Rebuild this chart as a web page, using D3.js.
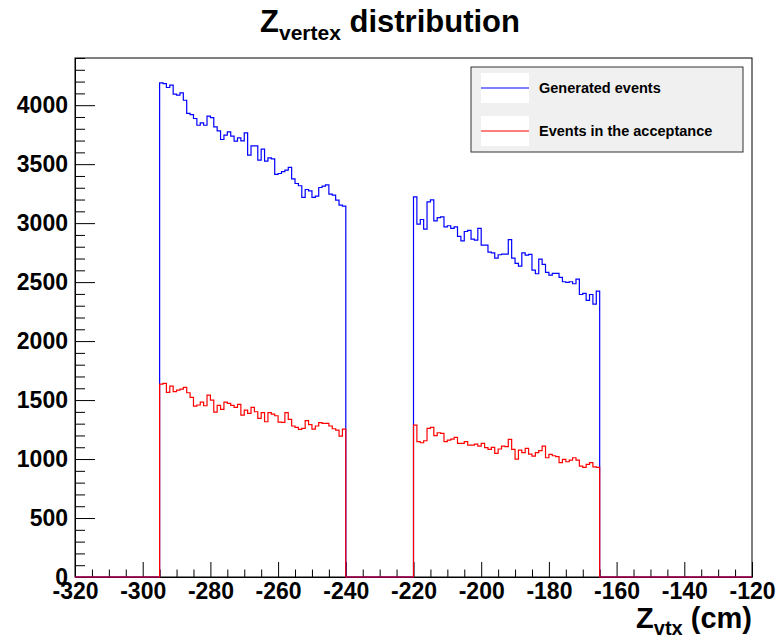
<!DOCTYPE html>
<html>
<head>
<meta charset="utf-8">
<script src="https://cdn.jsdelivr.net/npm/d3@7"></script>
<style>
  body { margin: 0; background: #fff; }
  svg { font-family: "Liberation Sans", Arial, Helvetica, sans-serif; font-weight: bold; }
</style>
</head>
<body>
<div id="chart"></div>
<script>
// histogram binning: 1 cm bins from -320 to -120
const xDomain = [-320, -120];
const yMax = 4400;
const binWidth = 1;
const xMajor = [-320, -300, -280, -260, -240, -220, -200, -180, -160, -140, -120];
const yMajor = [0, 500, 1000, 1500, 2000, 2500, 3000, 3500, 4000];

// two filled regions of the target
const seg1Start = -295, seg2Start = -220;

// Generated events (blue)
const genSeg1 = [4189, 4183, 4150, 4170, 4093, 4085, 4105, 4042, 3930, 3920,
  3887, 3830, 3850, 3830, 3907, 3895, 3816, 3782, 3709, 3746,
  3774, 3737, 3695, 3723, 3698, 3766, 3576, 3655, 3655, 3534,
  3627, 3525, 3554, 3545, 3413, 3421, 3436, 3450, 3472, 3376,
  3336, 3317, 3218, 3285, 3274, 3218, 3229, 3302, 3314, 3325,
  3246, 3237, 3195, 3153, 3144];
const genSeg2 = [3223, 2992, 3031, 2949, 3180, 3197, 3019, 3047, 3053, 2969,
  2978, 2955, 2969, 2887, 2850, 2929, 2938, 2864, 2856, 2955,
  2814, 2814, 2754, 2748, 2703, 2732, 2738, 2738, 2861, 2703,
  2659, 2636, 2748, 2729, 2735, 2602, 2571, 2695, 2650, 2582,
  2559, 2574, 2574, 2540, 2503, 2497, 2503, 2486, 2525, 2395,
  2404, 2345, 2395, 2313, 2423];

// Events in the acceptance (red)
const accSeg1 = [1636, 1641, 1565, 1619, 1571, 1585, 1593, 1607, 1562, 1523,
  1449, 1458, 1483, 1452, 1542, 1500, 1398, 1455, 1421, 1483,
  1472, 1455, 1438, 1463, 1373, 1415, 1387, 1438, 1401, 1345,
  1393, 1316, 1393, 1381, 1367, 1313, 1311, 1393, 1336, 1280,
  1268, 1251, 1260, 1325, 1291, 1254, 1280, 1308, 1302, 1302,
  1280, 1257, 1246, 1195, 1254];
const accSeg2 = [1288, 1147, 1138, 1155, 1260, 1268, 1198, 1223, 1217, 1147,
  1161, 1169, 1184, 1133, 1133, 1147, 1118, 1118, 1127, 1110,
  1133, 1096, 1082, 1099, 1048, 1085, 1110, 1105, 1167, 1082,
  1000, 1076, 1054, 1090, 1042, 1025, 1054, 1071, 1110, 1011,
  1039, 1028, 1020, 969, 997, 977, 991, 1011, 991, 940,
  929, 954, 969, 934, 929];

const legendLabels = ["Generated events", "Events in the acceptance"];
const colors = ["#0000ff", "#ff0000"];

const width = 779, height = 638;
const frame = { left: 75, right: 752, top: 58, bottom: 577 };

const x = d3.scaleLinear().domain(xDomain).range([frame.left, frame.right]);
const y = d3.scaleLinear().domain([0, yMax]).range([frame.bottom, frame.top]);
const fmt = d => String(d); // plain hyphen minus, like ROOT

function buildBins(seg1, seg2) {
  const bins = [];
  for (let lo = xDomain[0]; lo < xDomain[1]; lo += binWidth) {
    let v = 0;
    const i1 = lo - seg1Start, i2 = lo - seg2Start;
    if (i1 >= 0 && i1 < seg1.length) v = seg1[i1];
    else if (i2 >= 0 && i2 < seg2.length) v = seg2[i2];
    bins.push({ x: lo, v });
  }
  bins.push({ x: xDomain[1], v: 0 });
  return bins;
}

const svg = d3.select("#chart").append("svg")
  .attr("width", width).attr("height", height);

svg.append("rect").attr("width", width).attr("height", height).attr("fill", "#fff");

// title
const title = svg.append("text")
  .attr("x", 390).attr("y", 32)
  .attr("text-anchor", "middle")
  .style("font-size", "31px");
title.append("tspan").text("Z");
title.append("tspan").attr("dy", 8).style("font-size", "21px").text("vertex");
title.append("tspan").attr("dy", -8).text(" distribution");

// frame
svg.append("rect")
  .attr("x", frame.left).attr("y", frame.top)
  .attr("width", frame.right - frame.left).attr("height", frame.bottom - frame.top)
  .attr("fill", "none").attr("stroke", "#000").attr("stroke-width", 1);

// x axis ticks (inside)
const xMinor = d3.range(xDomain[0], xDomain[1] + 1, 5).filter(v => !xMajor.includes(v));
const xAxis = svg.append("g").attr("transform", `translate(0,${frame.bottom})`);
xAxis.call(d3.axisBottom(x).tickValues(xMajor).tickSize(-15).tickSizeOuter(0).tickPadding(6).tickFormat(fmt));
xAxis.append("g").call(d3.axisBottom(x).tickValues(xMinor).tickSize(-7.5).tickFormat(""))
  .select(".domain").remove();
xAxis.selectAll("text").style("font-size", "23px").style("font-family", "inherit").attr("fill", "#000");

// y axis ticks (inside)
const yMinor = d3.range(0, yMax + 1, 100).filter(v => !yMajor.includes(v));
const yAxis = svg.append("g").attr("transform", `translate(${frame.left},0)`);
yAxis.call(d3.axisLeft(y).tickValues(yMajor).tickSize(-20).tickSizeOuter(0).tickPadding(7).tickFormat(fmt));
yAxis.append("g").call(d3.axisLeft(y).tickValues(yMinor).tickSize(-10).tickFormat(""))
  .select(".domain").remove();
yAxis.selectAll("text").style("font-size", "23px").style("font-family", "inherit").attr("fill", "#000");
svg.selectAll(".tick line, .domain").attr("stroke", "#000");

// x axis title
const xTitle = svg.append("text")
  .attr("x", frame.right).attr("y", 628)
  .attr("text-anchor", "end")
  .style("font-size", "29px");
xTitle.append("tspan").text("Z");
xTitle.append("tspan").attr("dy", 7).style("font-size", "20px").text("vtx");
xTitle.append("tspan").attr("dy", -7).text(" (cm)");

// histograms
const step = d3.line().x(d => x(d.x)).y(d => y(d.v)).curve(d3.curveStepAfter);
[buildBins(genSeg1, genSeg2), buildBins(accSeg1, accSeg2)].forEach((bins, i) => {
  svg.append("path")
    .attr("d", step(bins))
    .attr("fill", "none")
    .attr("stroke", colors[i])
    .attr("stroke-width", 1.2);
});

// legend
const legend = svg.append("g").attr("transform", "translate(471,67)");
legend.append("rect")
  .attr("width", 272).attr("height", 85)
  .attr("fill", "#f0f0f0").attr("stroke", "#333").attr("stroke-width", 1);
legendLabels.forEach((label, i) => {
  const g = legend.append("g").attr("transform", `translate(0,${6 + i * 43})`);
  g.append("rect").attr("x", 10).attr("width", 48).attr("height", 30).attr("fill", "#fff");
  g.append("line").attr("x1", 10).attr("x2", 58).attr("y1", 15).attr("y2", 15)
    .attr("stroke", colors[i]).attr("stroke-width", 1.2);
  g.append("text").attr("x", 68).attr("y", 20).style("font-size", "14.5px").text(label);
});
</script>
</body>
</html>
